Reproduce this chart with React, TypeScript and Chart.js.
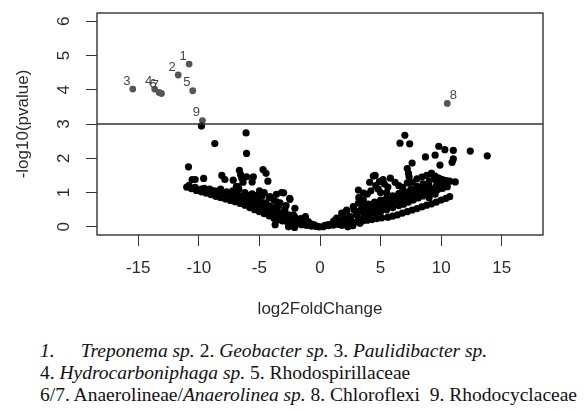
import React, { useEffect, useRef } from 'react';
import { Chart, registerables } from 'chart.js';

Chart.register(...registerables);

// ---------- axis / threshold ----------
const xTicks = [-15, -10, -5, 0, 5, 10, 15];
const yTicks = [0, 1, 2, 3, 4, 5, 6];
const xRange = [-18.4, 18.4];
const yRange = [-0.24, 6.24];
const threshold = 3;

// ---------- labelled (significant) taxa ----------
const labelIds = ['1', '2', '3', '4', '5', '6', '7', '8', '9'];
const labelX = [-10.8, -11.7, -15.45, -13.64, -10.5, -13.28, -13.08, 10.5, -9.7];
const labelY = [4.75, 4.43, 4.02, 4.02, 3.97, 3.92, 3.89, 3.6, 3.1];

// ---------- left arm ----------
const leftEdgeX = [-11.0, -10.6, -10.2, -9.8, -9.4, -9.0, -8.6, -8.2, -7.8, -7.4, -7.0, -6.6, -6.2, -5.8, -5.4, -5.0, -4.6, -4.2, -3.8, -3.5, -3.1, -2.7, -2.3, -1.9, -1.5, -1.1, -0.7, -0.3, 0.0];
const leftEdgeY = [1.16, 1.11, 1.06, 1.02, 0.98, 0.94, 0.89, 0.85, 0.81, 0.77, 0.73, 0.68, 0.63, 0.56, 0.5, 0.44, 0.38, 0.32, 0.25, 0.2, 0.17, 0.14, 0.11, 0.08, 0.06, 0.04, 0.02, 0.01, 0.0];

const leftRow2X = [-10.8, -10.3, -9.8, -9.3, -8.8, -8.3, -7.8, -7.3, -6.8, -6.3, -5.8, -5.3, -4.8, -4.3, -3.8, -3.3, -2.8, -2.3, -1.8, -1.3, -0.8];
const leftRow2Y = [1.21, 1.15, 1.1, 1.06, 1.01, 0.96, 0.91, 0.87, 0.83, 0.77, 0.7, 0.63, 0.56, 0.49, 0.41, 0.33, 0.27, 0.22, 0.18, 0.14, 0.09];

const leftRow3X = [-9.1, -8.6, -8.1, -7.6, -7.1, -6.6, -6.1, -5.6, -5.1, -4.6, -4.1, -3.6, -3.1, -2.6, -2.1, -1.6];
const leftRow3Y = [1.1, 1.04, 0.99, 0.97, 0.94, 0.9, 0.87, 0.83, 0.78, 0.7, 0.6, 0.5, 0.42, 0.35, 0.3, 0.24];

const leftFillX = [-8.8, -8.4, -7.9, -7.5, -7.0, -6.5, -6.0, -5.5, -5.0, -4.5, -4.0, -3.5, -3.0, -7.7, -6.9, -5.9, -5.3, -4.9, -4.3, -3.4];
const leftFillY = [1.05, 1.0, 0.95, 0.92, 0.88, 0.85, 0.8, 0.75, 0.68, 0.6, 0.52, 0.42, 0.36, 1.02, 0.98, 0.92, 0.85, 0.72, 0.58, 0.62];

const leftScatterX = [-8.2, -7.2, -6.2, -5.6, -5.2, -4.8, -4.2, -3.8, -3.3, -2.8, -4.6, -3.6, -5.0, -6.7, -4.4, -3.9, -2.9, -4.13, -3.17, -2.48, -3.58, -2.07, -2.2, -2.6, -2.1, -3.7, -1.2];
const leftScatterY = [1.1, 1.05, 1.0, 0.96, 0.92, 0.9, 0.85, 0.78, 0.7, 0.62, 1.0, 0.95, 1.05, 1.1, 0.66, 0.55, 0.5, 0.88, 1.0, 0.8, 0.73, 0.54, 0.35, 0.0, -0.02, 0.06, 0.3];

const leftHighX = [-9.78, -6.1, -8.68, -6.06, -10.85, -10.55, -10.3, -9.6, -9.55, -8.1, -7.85, -6.65, -6.55, -6.45, -6.35, -6.06, -5.5, -5.6, -4.7, -4.45, -4.3, -7.16, -6.9, -3.0, -2.5, -6.75];
const leftHighY = [2.94, 2.74, 2.43, 2.14, 1.75, 1.38, 1.38, 1.41, 1.12, 1.5, 1.38, 1.65, 1.52, 1.42, 1.3, 1.46, 1.46, 1.31, 1.67, 1.56, 1.33, 1.36, 1.17, 0.99, 0.83, 1.17];

// ---------- centre ----------
const centreX = [-1.38, -0.97, -0.55, -0.14, 0.28, 0.69, 1.1, 1.38, 1.79, 2.2, 2.75, 3.17, 3.58, 1.0, 1.5, 2.0, 2.5, 3.0, 2.3, 2.7, 1.8, 0.4, -0.4, -1.7];
const centreY = [0.23, 0.15, 0.06, 0.0, 0.0, 0.06, 0.15, 0.25, 0.4, 0.49, 0.59, 0.69, 0.78, 0.08, 0.12, 0.18, 0.25, 0.35, 0.02, 0.04, 0.05, 0.04, 0.04, 0.1];

// ---------- right arm ----------
const rightEdgeX = [0.7, 1.1, 1.5, 1.9, 2.3, 2.7, 3.1, 3.5, 3.9, 4.3, 4.7, 5.1, 5.6, 6.0, 6.4, 6.8, 7.2, 7.6, 8.0, 8.4, 8.8, 9.2, 9.6, 10.0, 10.4, 10.7];
const rightEdgeY = [0.03, 0.05, 0.07, 0.09, 0.11, 0.13, 0.15, 0.17, 0.19, 0.21, 0.24, 0.26, 0.28, 0.31, 0.35, 0.4, 0.44, 0.49, 0.53, 0.58, 0.63, 0.67, 0.72, 0.78, 0.83, 0.88];

const rightStreak2X = [4.6, 5.0, 5.5, 6.0, 6.5, 6.9, 7.3, 7.7, 8.1, 8.5, 8.9, 9.3, 9.7, 10.1, 10.5];
const rightStreak2Y = [0.4, 0.44, 0.5, 0.56, 0.62, 0.66, 0.72, 0.78, 0.84, 0.9, 0.96, 1.02, 1.08, 1.12, 1.17];

const rightStreak3X = [3.6, 4.0, 4.5, 5.0, 5.5, 6.0, 6.5, 7.0, 7.5, 8.0, 8.5, 9.0, 9.5];
const rightStreak3Y = [0.6, 0.66, 0.72, 0.78, 0.84, 0.9, 0.97, 1.03, 1.1, 1.18, 1.25, 1.32, 1.38];

const rightFillX = [3.0, 3.4, 3.8, 4.2, 4.6, 5.0, 5.4, 5.8, 6.2, 6.6, 7.0, 7.4, 7.8, 8.2, 8.6, 9.0, 3.2, 3.6, 4.0, 4.4, 4.8, 5.2, 5.6, 6.0, 6.4, 6.8, 7.2, 7.6, 8.0, 8.4, 8.8, 9.2, 9.6, 10.0];
const rightFillY = [0.45, 0.5, 0.55, 0.62, 0.66, 0.7, 0.75, 0.8, 0.85, 0.9, 0.95, 1.0, 1.04, 1.08, 1.12, 1.18, 0.2, 0.3, 0.35, 0.42, 0.55, 0.62, 0.66, 0.72, 0.76, 0.82, 0.88, 0.92, 0.96, 1.0, 1.05, 1.1, 1.15, 1.22];

const rightScatterX = [2.5, 3.0, 3.4, 2.0, 1.6, 1.2, 2.2, 2.8, 3.2, 3.9, 4.2, 4.6, 4.4, 4.9, 5.3, 5.6, 5.2, 5.8, 6.2, 6.5, 6.8, 7.2, 7.6, 8.0, 8.4, 8.8, 9.2, 9.5, 9.8, 10.1, 10.4, 10.7, 11.16, 9.9, 10.3, 9.6, 3.17, 3.6, 5.0, 5.8, 6.3, 7.0, 7.4, 8.2, 8.7, 9.0, 9.5, 4.0, 4.5, 5.2, 3.3, 2.3, 1.8, 2.7, 4.1, 4.8, 5.5, 3.8];
const rightScatterY = [0.3, 0.35, 0.45, 0.25, 0.2, 0.18, 0.45, 0.5, 0.85, 0.95, 1.05, 1.2, 1.48, 1.32, 1.25, 1.16, 1.38, 1.42, 1.3, 1.2, 1.15, 1.28, 1.3, 1.4, 1.45, 1.5, 1.56, 1.48, 1.42, 1.38, 1.35, 1.33, 1.31, 1.25, 1.28, 1.2, 1.07, 0.98, 1.0, 0.75, 0.82, 0.88, 0.95, 1.05, 1.12, 0.85, 0.95, 0.45, 0.55, 0.6, 0.1, 0.0, 0.05, 0.03, 1.3, 1.1, 1.0, 0.35];

const rightHighX = [7.0, 6.6, 7.4, 9.8, 10.3, 11.0, 12.4, 13.8, 8.7, 9.5, 11.0, 10.9, 9.9, 7.6, 7.2, 7.3, 7.35, 9.2, 9.4, 4.55];
const rightHighY = [2.67, 2.44, 2.42, 2.35, 2.25, 2.23, 2.21, 2.07, 2.04, 2.09, 1.98, 1.88, 1.8, 1.86, 1.7, 1.56, 1.46, 1.56, 1.42, 1.5];

// ---------- caption ----------
type Seg = { t: string; i?: boolean; gap?: number };
const captionLines: Seg[][] = [
  [{ t: '1.', i: true }, { t: 'Treponema sp.', i: true, gap: 26 }, { t: ' 2. ' }, { t: 'Geobacter sp.', i: true }, { t: ' 3. ' }, { t: 'Paulidibacter sp.', i: true }],
  [{ t: '4. ' }, { t: 'Hydrocarboniphaga sp.', i: true }, { t: ' 5. Rhodospirillaceae' }],
  [{ t: '6/7. Anaerolineae/' }, { t: 'Anaerolinea sp.', i: true }, { t: ' 8. Chloroflexi\u00a0\u00a09. Rhodocyclaceae' }],
];

const toPoints = (xs: number[], ys: number[]) => xs.map((x, i) => ({ x, y: ys[i] }));

const FAMILY = '"Liberation Sans", Arial, sans-serif';
const AXIS_FONT = { family: FAMILY, size: 17 };
const INK = '#2a2a2a';

export default function App() {
  const ref = useRef<HTMLCanvasElement>(null);

  useEffect(() => {
    if (!ref.current) return;

    const blackPts = [
      ...toPoints(leftEdgeX, leftEdgeY),
      ...toPoints(leftRow2X, leftRow2Y),
      ...toPoints(leftRow3X, leftRow3Y),
      ...toPoints(leftFillX, leftFillY),
      ...toPoints(leftScatterX, leftScatterY),
      ...toPoints(leftHighX, leftHighY),
      ...toPoints(centreX, centreY),
      ...toPoints(rightEdgeX, rightEdgeY),
      ...toPoints(rightStreak2X, rightStreak2Y),
      ...toPoints(rightStreak3X, rightStreak3Y),
      ...toPoints(rightFillX, rightFillY),
      ...toPoints(rightScatterX, rightScatterY),
      ...toPoints(rightHighX, rightHighY),
    ];

    const decor = {
      id: 'volcanoDecor',
      afterDraw(chart: any) {
        const { ctx, chartArea: a } = chart;
        ctx.save();
        // frame
        ctx.strokeStyle = '#333';
        ctx.lineWidth = 1.4;
        ctx.strokeRect(a.left, a.top, a.right - a.left, a.bottom - a.top);
        // rotated y tick labels (R style, parallel to axis)
        const ys = chart.scales.y;
        ctx.font = `17px ${FAMILY}`;
        ctx.fillStyle = INK;
        ctx.textAlign = 'center';
        ctx.textBaseline = 'middle';
        yTicks.forEach((v) => {
          const py = ys.getPixelForValue(v);
          ctx.save();
          ctx.translate(a.left - 33, py);
          ctx.rotate(-Math.PI / 2);
          ctx.fillText(String(v), 0, 0);
          ctx.restore();
        });
        // point labels
        const meta = chart.getDatasetMeta(2);
        ctx.font = `13px ${FAMILY}`;
        ctx.fillStyle = '#444';
        meta.data.forEach((el: any, i: number) => {
          const dx = labelIds[i] === '8' ? 6 : -6;
          ctx.fillText(labelIds[i], el.x + dx, el.y - 8);
        });
        ctx.restore();
      },
    };

    const chart = new Chart(ref.current, {
      type: 'scatter',
      data: {
        datasets: [
          {
            label: 'threshold',
            data: [{ x: xRange[0], y: threshold }, { x: xRange[1], y: threshold }],
            showLine: true,
            borderColor: '#333',
            borderWidth: 1.5,
            pointRadius: 0,
          },
          {
            label: 'taxa',
            data: blackPts,
            backgroundColor: '#000',
            borderWidth: 0,
            pointRadius: 3.6,
          },
          {
            label: 'labelled',
            data: toPoints(labelX, labelY),
            backgroundColor: '#555',
            borderWidth: 0,
            pointRadius: 3.4,
          },
        ],
      },
      options: {
        animation: false,
        responsive: false,
        devicePixelRatio: 1,
        layout: { padding: { left: 0, top: 13, right: 44, bottom: 0 } },
        plugins: { legend: { display: false }, tooltip: { enabled: false } },
        scales: {
          x: {
            type: 'linear',
            min: xRange[0],
            max: xRange[1],
            afterBuildTicks: (s: any) => { s.ticks = xTicks.map((v) => ({ value: v })); },
            afterFit: (s: any) => { s.height = 95; },
            grid: { drawOnChartArea: false, drawTicks: true, tickLength: 11, color: '#333', lineWidth: 1 },
            border: { display: false },
            ticks: { font: AXIS_FONT, color: INK, padding: 12, minRotation: 0, maxRotation: 0, autoSkip: false },
            title: { display: true, text: 'log2FoldChange', font: AXIS_FONT, color: INK, padding: { top: 0, bottom: 10 } },
          },
          y: {
            type: 'linear',
            min: yRange[0],
            max: yRange[1],
            afterBuildTicks: (s: any) => { s.ticks = yTicks.map((v) => ({ value: v })); },
            afterFit: (s: any) => { s.width = 97; },
            grid: { drawOnChartArea: false, drawTicks: true, tickLength: 11, color: '#333', lineWidth: 1 },
            border: { display: false },
            ticks: { display: false },
            title: { display: true, text: '-log10(pvalue)', font: AXIS_FONT, color: INK, padding: { top: 13, bottom: 0 } },
          },
        },
      },
      plugins: [decor],
    } as any);

    return () => chart.destroy();
  }, []);

  return (
    <div style={{ position: 'fixed', left: 0, top: 0, width: 587, height: 411, background: '#fff', overflow: 'hidden' }}>
      <canvas ref={ref} width={587} height={330} style={{ position: 'absolute', left: 0, top: 0, display: 'block' }} />
      <div
        style={{
          position: 'absolute',
          left: 40,
          top: 340,
          fontFamily: '"Liberation Serif", "Times New Roman", serif',
          fontSize: 19.5,
          lineHeight: '22px',
          color: '#111',
          whiteSpace: 'nowrap',
        }}
      >
        {captionLines.map((line, li) => (
          <div key={li}>
            {line.map((s, si) => (
              <span key={si} style={{ fontStyle: s.i ? 'italic' : 'normal', marginLeft: s.gap ?? 0 }}>
                {s.t}
              </span>
            ))}
          </div>
        ))}
      </div>
    </div>
  );
}
